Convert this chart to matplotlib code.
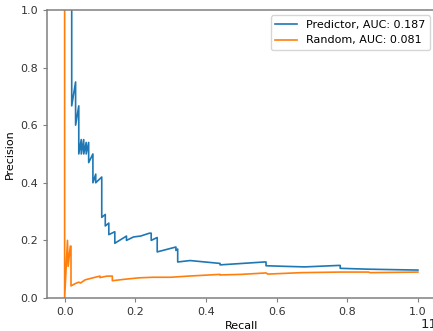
from matplotlib import pyplot as plt

plt.rcParams['font.size'] = 8
plt.rcParams['lines.linewidth'] = 1.2
plt.rcParams['xtick.major.size'] = 2.8
plt.rcParams['ytick.major.size'] = 2.8

# precision-recall curves, points
pred_recall = [0.020, 0.020, 0.031, 0.031, 0.040, 0.040, 0.047, 0.047, 0.054, 0.054,
               0.061, 0.061, 0.068, 0.068, 0.080, 0.080, 0.088, 0.088, 0.105, 0.105,
               0.115, 0.115, 0.125, 0.125, 0.142, 0.142, 0.175, 0.175, 0.195, 0.215,
               0.240, 0.245, 0.245, 0.262, 0.262, 0.315, 0.315, 0.320, 0.320, 0.355,
               0.440, 0.440, 0.565, 0.570, 0.570, 0.620, 0.680, 0.775, 0.780, 0.780,
               0.860, 0.950, 1.000]
pred_precision = [1.000, 0.667, 0.750, 0.600, 0.667, 0.500, 0.550, 0.500, 0.550, 0.500,
                  0.540, 0.500, 0.540, 0.470, 0.500, 0.400, 0.430, 0.400, 0.420, 0.280,
                  0.290, 0.250, 0.260, 0.220, 0.230, 0.190, 0.215, 0.200, 0.212, 0.215,
                  0.225, 0.225, 0.200, 0.210, 0.160, 0.177, 0.165, 0.170, 0.125, 0.130,
                  0.120, 0.115, 0.125, 0.125, 0.112, 0.110, 0.108, 0.113, 0.113, 0.103,
                  0.100, 0.098, 0.097]

rand_recall = [0.000, 0.000, 0.008, 0.010, 0.016, 0.018, 0.018, 0.030, 0.040, 0.045,
               0.058, 0.080, 0.100, 0.100, 0.120, 0.135, 0.135, 0.170, 0.210, 0.250,
               0.300, 0.350, 0.440, 0.440, 0.500, 0.570, 0.575, 0.670, 0.780, 0.860,
               0.865, 1.000]
rand_precision = [1.000, 0.000, 0.200, 0.110, 0.180, 0.180, 0.042, 0.050, 0.055, 0.052,
                  0.063, 0.070, 0.076, 0.071, 0.076, 0.076, 0.060, 0.065, 0.070, 0.072,
                  0.072, 0.076, 0.082, 0.080, 0.082, 0.087, 0.083, 0.088, 0.090, 0.090,
                  0.088, 0.090]

fig = plt.figure(figsize=(4.33, 3.31), dpi=100)
ax = fig.add_axes([0.1085, 0.0997, 0.8975, 0.8703])

ax.plot(pred_recall, pred_precision, color='#1f77b4', label='Predictor, AUC: 0.187')
ax.plot(rand_recall, rand_precision, color='#ff7f0e', label='Random, AUC: 0.081')

ax.set_xlim(-0.05, 1.05)
ax.set_ylim(0, 1)
ax.set_xlabel('Recall', labelpad=3)
ax.set_ylabel('Precision')

for s in ax.spines.values():
    s.set_color('#808080')
    s.set_linewidth(1.1)
ax.tick_params(color='#808080', labelcolor='#333333')

ax.legend(loc='upper right')
fig.text(0.972, 0.0, '11', fontsize=9.5, va='bottom', color='#222222')

plt.savefig('out.png', dpi=100)
